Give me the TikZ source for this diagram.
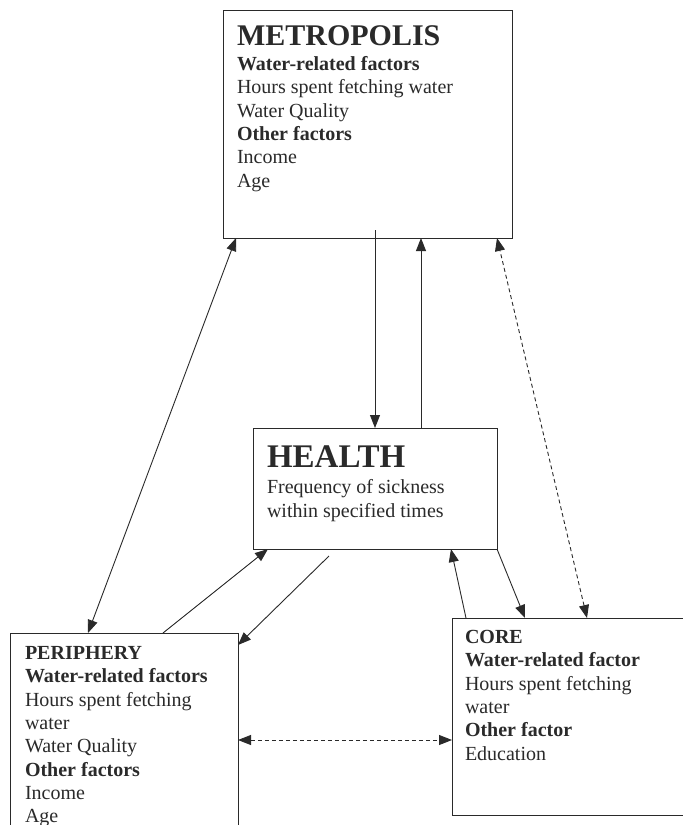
\documentclass[tikz,border=0pt]{standalone}
\usepackage{fontspec}
\setmainfont{Liberation Serif}
\usetikzlibrary{arrows.meta}
\definecolor{ink}{HTML}{2A2A2A}
\begin{document}
\begin{tikzpicture}[x=1pt,y=-1pt,
  box/.style={draw=ink,line width=0.9pt,rectangle,inner sep=0pt,outer sep=0pt,anchor=north west},
  txt/.style={anchor=base west,inner sep=0pt,outer sep=0pt,text=ink,font=\fontsize{20}{23}\selectfont},
  bigtitle/.style={anchor=base west,inner sep=0pt,outer sep=0pt,text=ink,font=\fontsize{#1}{#1}\selectfont\bfseries},
  conn/.style={draw=ink,line width=0.9pt},
  tip/.tip={Triangle[length=13pt,width=10pt]},
  dsh/.style={dash pattern=on 4pt off 3pt}]
\clip (0,0) rectangle (683,825);
\fill[white] (0,0) rectangle (683,825);

% boxes
\node[box,minimum width=289pt,minimum height=228pt] (metro) at (223,10) {};
\node[box,minimum width=244pt,minimum height=121pt] (health) at (253,428) {};
\node[box,minimum width=228pt,minimum height=220pt] (peri) at (10,633) {};
\node[box,minimum width=245pt,minimum height=197pt] (core) at (452,618) {};

% metropolis text
\node[bigtitle=30] (m0) at (237,45) {METROPOLIS};
\node[txt] (m1) at (237,70) {\textbf{Water-related factors}};
\node[txt] (m2) at (237,93) {Hours spent fetching water};
\node[txt] (m3) at (237,117) {Water Quality};
\node[txt] (m4) at (237,140) {\textbf{Other factors}};
\node[txt] (m5) at (237,163) {Income};
\node[txt] (m6) at (237,187) {Age};

% health text
\node[bigtitle=33] (h0) at (267,467) {HEALTH};
\node[txt] (h1) at (267,493) {Frequency of sickness};
\node[txt] (h2) at (267,517) {within specified times};

% periphery text
\node[txt] (p0) at (25,659) {\textbf{PERIPHERY}};
\node[txt] (p1) at (25,682) {\textbf{Water-related factors}};
\node[txt] (p2) at (25,706) {Hours spent fetching};
\node[txt] (p3) at (25,729) {water};
\node[txt] (p4) at (25,752) {Water Quality};
\node[txt] (p5) at (25,776) {\textbf{Other factors}};
\node[txt] (p6) at (25,799) {Income};
\node[txt] (p7) at (25,822) {Age};

% core text
\node[txt] (c0) at (465,643) {\textbf{CORE}};
\node[txt] (c1) at (465,666) {\textbf{Water-related factor}};
\node[txt] (c2) at (465,690) {Hours spent fetching};
\node[txt] (c3) at (465,713) {water};
\node[txt] (c4) at (465,736) {\textbf{Other factor}};
\node[txt] (c5) at (465,760) {Education};

% connectors
\draw[conn,tip-tip] (88,0 |- peri.north) -- (236,0 |- metro.south);
\draw[conn,-tip] ([yshift=8pt]375,0 |- metro.south) -- (375,0 |- health.north);
\draw[conn,-tip] (421,0 |- health.north) -- (421,0 |- metro.south);
\draw[conn,dsh,tip-tip] (587,0 |- core.north) -- (497,0 |- metro.south);
\draw[conn,-tip] (163,0 |- peri.north) -- (268,0 |- health.south);
\draw[conn,-tip] ([yshift=-7pt]329,0 |- health.south) -- ([yshift=-12pt]peri.north east);
\draw[conn,-tip] (466,0 |- core.north) -- (451,0 |- health.south);
\draw[conn,-tip] (health.south east) -- (525,0 |- core.north);
\draw[conn,dsh,tip-tip] (peri.east |- 0,740) -- (core.west |- 0,740);
\end{tikzpicture}
\end{document}
